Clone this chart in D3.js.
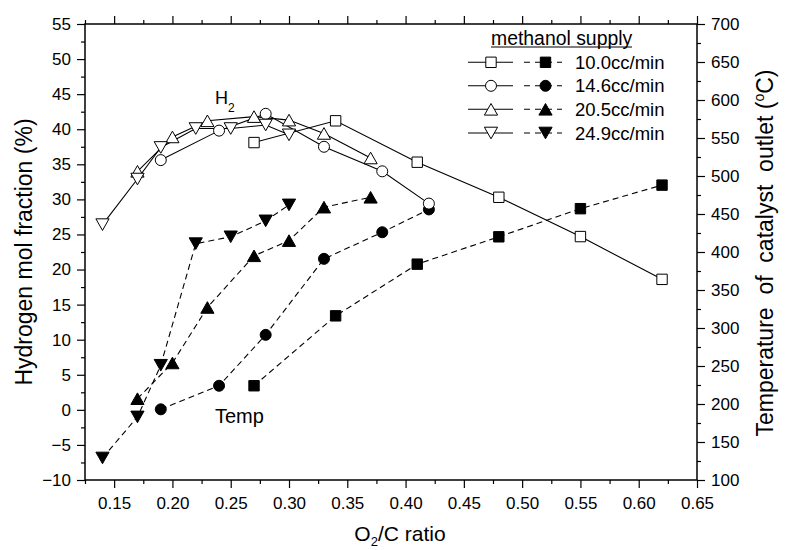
<!DOCTYPE html>
<html><head><meta charset="utf-8">
<script src="https://cdn.jsdelivr.net/npm/d3@7"></script>
<style>
body{margin:0;background:#fff;}
svg{display:block;font-family:"Liberation Sans",Arial,sans-serif;}
</style></head>
<body><svg id="c" width="786" height="550"></svg>
<script>
// ---- data ----
const xTicks = [0.15,0.20,0.25,0.30,0.35,0.40,0.45,0.50,0.55,0.60,0.65];
const yLeftTicks = [-10,-5,0,5,10,15,20,25,30,35,40,45,50,55];
const yRightTicks = [100,150,200,250,300,350,400,450,500,550,600,650,700];
const seriesNames = ["10.0cc/min","14.6cc/min","20.5cc/min","24.9cc/min"];
const symbols = ["square","circle","triUp","triDown"];

const x10 = [0.27,0.34,0.41,0.48,0.55,0.62];
const h2_10 = [38.1,41.2,35.3,30.3,24.7,18.6];
const temp10 = [224,316,384,420,457,488];

const x14 = [0.19,0.24,0.28,0.33,0.38,0.42];
const h2_14 = [35.6,39.8,42.2,37.5,34.0,29.4];
const temp14 = [193,224,291,391,426,456];

const x20 = [0.17,0.20,0.23,0.27,0.30,0.33,0.37];
const h2_20 = [34.0,38.9,41.2,41.8,41.3,39.4,35.9];
const temp20 = [207,254,327,395,415,459,472];

const x24 = [0.14,0.17,0.19,0.22,0.25,0.28,0.30];
const h2_24 = [26.4,32.9,37.4,40.1,40.1,40.6,39.2];
const temp24 = [129,183,251,411,420,441,462];

const xs = [x10,x14,x20,x24];
const h2s = [h2_10,h2_14,h2_20,h2_24];
const temps = [temp10,temp14,temp20,temp24];

// ---- layout ----
const L=85, R=697, T=24, B=480;
const svg = d3.select("#c");
const x = d3.scaleLinear().domain([0.125,0.65]).range([L,R]);
const yL = d3.scaleLinear().domain([-10,55]).range([B,T]);
const yR = d3.scaleLinear().domain([100,700]).range([B,T]);

const xMinor = d3.range(0,11).map(i=>0.125+i*0.05);
const yLMinor = d3.range(0,13).map(i=>-7.5+i*5);
const yRMinor = d3.range(0,12).map(i=>125+i*50);

function styleAxis(g){
  g.select(".domain").remove();
  g.selectAll("line").attr("stroke","#000").attr("stroke-width",1.2);
  g.selectAll("text").attr("font-size",17).attr("fill","#000");
}
// bottom
svg.append("g").attr("transform",`translate(0,${B})`)
  .call(d3.axisBottom(x).tickValues(xTicks).tickSize(8).tickPadding(9).tickFormat(d3.format(".2f"))).call(styleAxis);
svg.append("g").attr("transform",`translate(0,${B})`)
  .call(d3.axisBottom(x).tickValues(xMinor).tickSize(4).tickFormat("")).call(styleAxis);
// top
svg.append("g").attr("transform",`translate(0,${T})`)
  .call(d3.axisTop(x).tickValues(xTicks).tickSize(8).tickFormat("")).call(styleAxis);
svg.append("g").attr("transform",`translate(0,${T})`)
  .call(d3.axisTop(x).tickValues(xMinor).tickSize(4).tickFormat("")).call(styleAxis);
// left
svg.append("g").attr("transform",`translate(${L},0)`)
  .call(d3.axisLeft(yL).tickValues(yLeftTicks).tickSize(8).tickPadding(6).tickFormat(d3.format("d"))).call(styleAxis);
svg.append("g").attr("transform",`translate(${L},0)`)
  .call(d3.axisLeft(yL).tickValues(yLMinor).tickSize(4).tickFormat("")).call(styleAxis);
// right
svg.append("g").attr("transform",`translate(${R},0)`)
  .call(d3.axisRight(yR).tickValues(yRightTicks).tickSize(8).tickPadding(6).tickFormat(d3.format("d"))).call(styleAxis);
svg.append("g").attr("transform",`translate(${R},0)`)
  .call(d3.axisRight(yR).tickValues(yRMinor).tickSize(4).tickFormat("")).call(styleAxis);
// frame
svg.append("rect").attr("x",L).attr("y",T).attr("width",R-L).attr("height",B-T)
  .attr("fill","none").attr("stroke","#000").attr("stroke-width",1.5);

// ---- symbols ----
function symPath(kind){
  if(kind==="square"){const s=5.2;return `M${-s},${-s}H${s}V${s}H${-s}Z`;}
  if(kind==="circle"){const r=5.5;return `M${r},0A${r},${r} 0 1,1 ${-r},0A${r},${r} 0 1,1 ${r},0Z`;}
  if(kind==="triUp"){const w=6.6,h=5.8;return `M0,${-h}L${w},${h}L${-w},${h}Z`;}
  const w=6.6,h=5.8;return `M0,${h}L${w},${-h}L${-w},${-h}Z`;
}
const line = (ys)=>d3.line().x(d=>x(d[0])).y(d=>ys(d[1]));
const plot = svg.append("g");
for(let i=0;i<4;i++){
  const hp = xs[i].map((v,j)=>[v,h2s[i][j]]);
  const tp = xs[i].map((v,j)=>[v,temps[i][j]]);
  plot.append("path").attr("d",line(yL)(hp)).attr("fill","none").attr("stroke","#000").attr("stroke-width",1.1);
  plot.append("path").attr("d",line(yR)(tp)).attr("fill","none").attr("stroke","#000").attr("stroke-width",1.1).attr("stroke-dasharray","6,4");
}
for(let i=0;i<4;i++){
  const hp = xs[i].map((v,j)=>[v,h2s[i][j]]);
  const tp = xs[i].map((v,j)=>[v,temps[i][j]]);
  plot.selectAll(null).data(tp).enter().append("path")
    .attr("transform",d=>`translate(${x(d[0])},${yR(d[1])})`).attr("d",symPath(symbols[i]))
    .attr("fill","#000").attr("stroke","#000").attr("stroke-width",1);
  plot.selectAll(null).data(hp).enter().append("path")
    .attr("transform",d=>`translate(${x(d[0])},${yL(d[1])})`).attr("d",symPath(symbols[i]))
    .attr("fill","#fff").attr("stroke","#000").attr("stroke-width",1);
}

// ---- annotations ----
const h = svg.append("text").attr("x",215).attr("y",104).attr("font-size",18).text("H");
h.append("tspan").attr("font-size",12).attr("dy",8).text("2");
svg.append("text").attr("x",215).attr("y",423).attr("font-size",20).text("Temp");

// ---- legend ----
svg.append("text").attr("x",491).attr("y",44.5).attr("font-size",19.4).text("methanol supply");
svg.append("line").attr("x1",491).attr("x2",632).attr("y1",47).attr("y2",47).attr("stroke","#000").attr("stroke-width",1.2);
const rowsY = [62.3,85.8,109.3,133];
for(let i=0;i<4;i++){
  const yy = rowsY[i];
  svg.append("line").attr("x1",468).attr("x2",513).attr("y1",yy).attr("y2",yy).attr("stroke","#000").attr("stroke-width",1.1);
  svg.append("path").attr("transform",`translate(491,${yy})`).attr("d",symPath(symbols[i])).attr("fill","#fff").attr("stroke","#000");
  svg.append("line").attr("x1",524).attr("x2",562).attr("y1",yy).attr("y2",yy).attr("stroke","#000").attr("stroke-width",1.1).attr("stroke-dasharray","6,5");
  svg.append("path").attr("transform",`translate(545.5,${yy})`).attr("d",symPath(symbols[i])).attr("fill","#000").attr("stroke","#000");
  svg.append("text").attr("x",575).attr("y",yy+6.6).attr("font-size",18.5).text(seriesNames[i]);
}

// ---- axis titles ----
const xt = svg.append("text").attr("x",400).attr("y",541).attr("text-anchor","middle").attr("font-size",21);
xt.append("tspan").text("O");
xt.append("tspan").attr("font-size",13).attr("dy",5).text("2");
xt.append("tspan").attr("dy",-5).text("/C ratio");

svg.append("text").attr("transform","translate(32,252) rotate(-90)").attr("text-anchor","middle").attr("font-size",23)
  .text("Hydrogen mol fraction (%)");
const rt = svg.append("text").attr("transform","translate(773,253) rotate(-90)").attr("text-anchor","middle").attr("font-size",23)
  .style("white-space","pre");
rt.append("tspan").text("Temperature  of  catalyst  outlet (");
rt.append("tspan").attr("font-size",14).attr("dy",-9).text("o");
rt.append("tspan").attr("dy",9).text("C)");
</script></body></html>
